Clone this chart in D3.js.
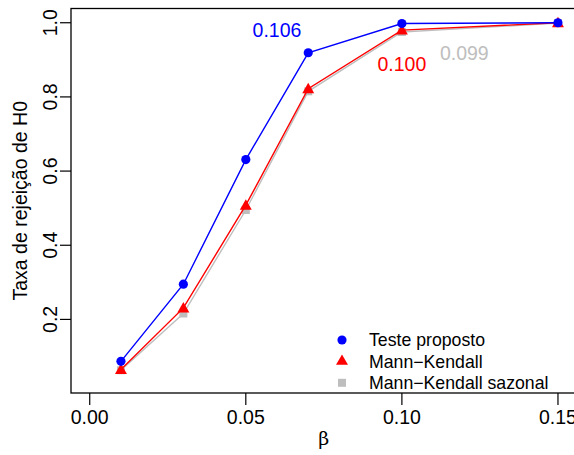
<!DOCTYPE html>
<html>
<head>
  <style>
    body{ margin:0; background:#fff; }
    svg{ display:block; font-family:"Liberation Sans", Arial, sans-serif; }
    .frame{ fill:none; stroke:#000; stroke-width:1.3px; }
    .tick-line{ stroke:#000; stroke-width:1.2px; }
    .axis-text{ font-size:19.5px; fill:#000; }
    .legend-text{ font-size:17.7px; fill:#000; }
    .series-line{ fill:none; stroke-width:1.4px; }
  </style>
  <script src="https://d3js.org/d3.v7.min.js"></script>
</head>
<body>
<div class="chart"></div>
<script>
// values
const betas = [0.01, 0.03, 0.05, 0.07, 0.10, 0.15];
const testeProposto = [0.087, 0.295, 0.631, 0.919, 0.998, 1.000];
const mannKendall = [0.065, 0.231, 0.508, 0.822, 0.980, 1.000];
const mannKendallSazonal = [0.063, 0.216, 0.495, 0.815, 0.975, 0.999];
const seriesNames = ['Teste proposto', 'Mann\u2212Kendall', 'Mann\u2212Kendall sazonal'];
const xTicks = [0.00, 0.05, 0.10, 0.15];
const yTicks = [0.2, 0.4, 0.6, 0.8, 1.0];
const annotationText = ['0.106', '0.100', '0.099'];
const annotationX = [0.060, 0.100, 0.120];
const annotationY = [0.980, 0.889, 0.918];

const width = 574, height = 455;
const plotLeft = 71, plotRight = 576.7, plotTop = 8.5, plotBottom = 393;

const svg = d3.select('.chart').append('svg')
  .attr('width', width).attr('height', height);

// R style limits: xlim c(0,0.15), ylim c(0.04,1) extended by 4%
const x = d3.scaleLinear().domain([-0.006, 0.156]).range([plotLeft, plotRight]);
const y = d3.scaleLinear().domain([0.0016, 1.0384]).range([plotBottom, plotTop]);

const series = [
  {name: seriesNames[2], values: mannKendallSazonal, color: '#BEBEBE', shape: d3.symbolSquare, size: 64},
  {name: seriesNames[1], values: mannKendall, color: '#FF0000', shape: d3.symbolTriangle, size: 62},
  {name: seriesNames[0], values: testeProposto, color: '#0000FF', shape: d3.symbolCircle, size: 66}
];

const line = d3.line()
  .x((d, i) => x(betas[i]))
  .y(d => y(d));

// lines + markers
series.forEach(s => {
  svg.append('path')
    .attr('class', 'series-line')
    .attr('stroke', s.color)
    .attr('d', line(s.values));
  svg.append('g').selectAll('path')
    .data(s.values)
    .join('path')
    .attr('transform', (d, i) => `translate(${x(betas[i])},${y(d) + (s.shape === d3.symbolTriangle ? 1 : 0)})`)
    .attr('d', d3.symbol().type(s.shape).size(s.size))
    .attr('fill', s.color);
});

// frame
svg.append('rect').attr('class', 'frame')
  .attr('x', plotLeft).attr('y', plotTop)
  .attr('width', plotRight - plotLeft).attr('height', plotBottom - plotTop);

// x axis
const xg = svg.append('g');
xg.selectAll('line').data(xTicks).join('line')
  .attr('class', 'tick-line')
  .attr('x1', d => x(d)).attr('x2', d => x(d))
  .attr('y1', plotBottom).attr('y2', plotBottom + 12);
xg.selectAll('text').data(xTicks).join('text')
  .attr('class', 'axis-text')
  .attr('x', d => x(d)).attr('y', 424)
  .attr('text-anchor', 'middle')
  .text(d => d3.format('.2f')(d));

// y axis
const yg = svg.append('g');
yg.selectAll('line').data(yTicks).join('line')
  .attr('class', 'tick-line')
  .attr('x1', plotLeft - 11).attr('x2', plotLeft)
  .attr('y1', d => y(d)).attr('y2', d => y(d));
yg.selectAll('text').data(yTicks).join('text')
  .attr('class', 'axis-text')
  .attr('transform', d => `translate(57,${y(d)}) rotate(-90)`)
  .attr('text-anchor', 'middle')
  .text(d => d3.format('.1f')(d));

// axis titles
svg.append('text')
  .attr('class', 'axis-text')
  .attr('transform', `translate(27,${(plotTop + plotBottom) / 2}) rotate(-90)`)
  .attr('text-anchor', 'middle')
  .text('Taxa de rejeição de H0');
svg.append('text')
  .attr('class', 'axis-text')
  .attr('x', (plotLeft + plotRight) / 2).attr('y', 445)
  .attr('text-anchor', 'middle')
  .style('font-family', '"DejaVu Serif", serif')
  .style('font-size', '19px')
  .text('β');

// annotations
const annColors = ['#0000FF', '#FF0000', '#BEBEBE'];
svg.append('g').selectAll('text')
  .data(annotationText)
  .join('text')
  .attr('class', 'axis-text')
  .attr('x', (d, i) => x(annotationX[i]))
  .attr('y', (d, i) => y(annotationY[i]))
  .attr('dy', '0.35em')
  .attr('text-anchor', 'middle')
  .style('fill', (d, i) => annColors[i])
  .text(d => d);

// legend (no box)
const legendItems = series.slice().reverse();
const lg = svg.append('g').attr('transform', 'translate(342,340)');
legendItems.forEach((s, i) => {
  const row = lg.append('g').attr('transform', `translate(0,${i * 21.4})`);
  row.append('path')
    .attr('d', d3.symbol().type(s.shape).size(s.size))
    .attr('fill', s.color);
  row.append('text')
    .attr('class', 'legend-text')
    .attr('x', 27).attr('dy', '0.35em')
    .text(s.name);
});
</script>
</body>
</html>
